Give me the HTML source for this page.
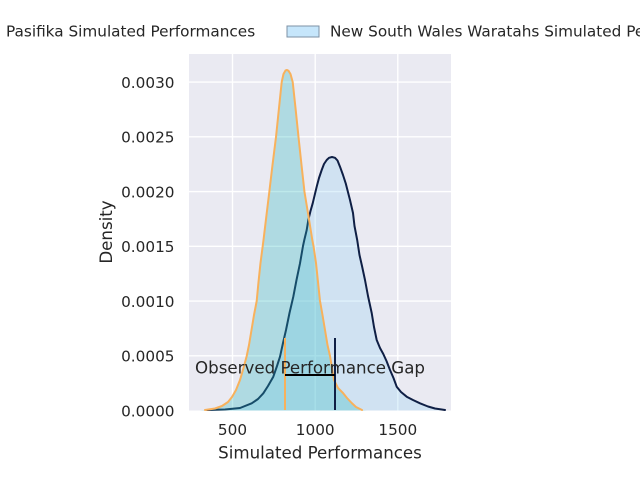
<!DOCTYPE html>
<html><head><meta charset="utf-8"><style>
html,body{margin:0;padding:0;background:#fff;width:640px;height:480px;overflow:hidden}
svg{display:block}
text{font-family:"DejaVu Sans","Liberation Sans",sans-serif;fill:#262626}
</style></head><body>
<svg width="640" height="480" viewBox="0 0 640 480" xmlns="http://www.w3.org/2000/svg">
<rect x="0" y="0" width="640" height="480" fill="#ffffff"/>
<!-- axes background -->
<rect x="189" y="54" width="262" height="356.5" fill="#eaeaf2"/>
<!-- grid -->
<g stroke="#ffffff" stroke-width="1.4">
<line x1="232.5" y1="54" x2="232.5" y2="410.5"/>
<line x1="315.2" y1="54" x2="315.2" y2="410.5"/>
<line x1="397.8" y1="54" x2="397.8" y2="410.5"/>
<line x1="189" y1="355.85" x2="451" y2="355.85"/>
<line x1="189" y1="301.1" x2="451" y2="301.1"/>
<line x1="189" y1="246.35" x2="451" y2="246.35"/>
<line x1="189" y1="191.6" x2="451" y2="191.6"/>
<line x1="189" y1="136.85" x2="451" y2="136.85"/>
<line x1="189" y1="82.1" x2="451" y2="82.1"/>
</g>
<!-- NSW fill + line -->
<polygon fill="rgb(148,207,242)" fill-opacity="0.3" points="200,410.5 207,410 225,409.5 240,408 251.7,403.3 258,399 263.3,393.3 268,386 273.3,376.7 277,366 280,356.7 283,343 286,330 289.5,313 293.3,296.7 296.5,280 300,263.3 303,246 304.3,240 306.7,230 308.3,220 310.5,211 312.7,203.3 316.7,186.7 319,178 321.7,170 324,164 326.7,160 329,157.8 332,157 335,157.8 337.5,160.5 340,166.7 343,175 345.7,183.3 350,200 353,213 354.5,226 357.2,240 359.5,255 362,266 365,280 368,296 371.7,313 374,327 376.7,340 380,348 383.3,354 386.5,361 390,370 393.5,378 396.7,386.7 401,392 406.7,396.7 413,400 420,403.3 428,406.5 435,408.5 445,410 440,410.5"/>
<polyline fill="none" stroke="#0f1f45" stroke-width="2" stroke-linejoin="round" stroke-linecap="round" points="207,410 225,409.5 240,408 251.7,403.3 258,399 263.3,393.3 268,386 273.3,376.7 277,366 280,356.7 283,343 286,330 289.5,313 293.3,296.7 296.5,280 300,263.3 303,246 304.3,240 306.7,230 308.3,220 310.5,211 312.7,203.3 316.7,186.7 319,178 321.7,170 324,164 326.7,160 329,157.8 332,157 335,157.8 337.5,160.5 340,166.7 343,175 345.7,183.3 350,200 353,213 354.5,226 357.2,240 359.5,255 362,266 365,280 368,296 371.7,313 374,327 376.7,340 380,348 383.3,354 386.5,361 390,370 393.5,378 396.7,386.7 401,392 406.7,396.7 413,400 420,403.3 428,406.5 435,408.5 445,410"/>
<!-- Pasifika fill + line -->
<polygon fill="rgb(41,181,189)" fill-opacity="0.3" points="200,410.5 205,410 215,408.5 222,406 228,402 232,397 236,390 240,380 243.5,368 246.7,356 249,345 251,333 254,315 256.7,301 258.5,282 260.5,263 263.5,240 266.5,215 269.3,192 272.5,165 276,137 279,108 281.7,82 283.5,74 285.5,70.5 287,70 288.5,70.8 290.5,74 292.7,82 295.5,108 298.5,137 301.5,165 304.5,192 308.3,215 312.3,240 313.5,246 316,263 318,282 320,301 322.5,315 325,330 327.5,345 330,356 332,368 334,380 338,388 343,393 347,398 351.7,403 356,407 362,410 367,410.5"/>
<polyline fill="none" stroke="#f8b15c" stroke-width="2" stroke-linejoin="round" stroke-linecap="round" points="205,410 215,408.5 222,406 228,402 232,397 236,390 240,380 243.5,368 246.7,356 249,345 251,333 254,315 256.7,301 258.5,282 260.5,263 263.5,240 266.5,215 269.3,192 272.5,165 276,137 279,108 281.7,82 283.5,74 285.5,70.5 287,70 288.5,70.8 290.5,74 292.7,82 295.5,108 298.5,137 301.5,165 304.5,192 308.3,215 312.3,240 313.5,246 316,263 318,282 320,301 322.5,315 325,330 327.5,345 330,356 332,368 334,380 338,388 343,393 347,398 351.7,403 356,407 362,410"/>
<!-- observed gap lines -->
<line x1="285" y1="338" x2="285" y2="410" stroke="#f8b15c" stroke-width="2"/>
<line x1="335" y1="338" x2="335" y2="410" stroke="#0f1f45" stroke-width="2"/>
<line x1="285" y1="375" x2="335" y2="375" stroke="#000000" stroke-width="2"/>
<text x="310" y="373.3" font-size="16.67" text-anchor="middle">Observed Performance Gap</text>
<!-- y tick labels -->
<g font-size="15.28" text-anchor="end">
<text x="174.5" y="88">0.0030</text>
<text x="174.5" y="142.7">0.0025</text>
<text x="174.5" y="197.5">0.0020</text>
<text x="174.5" y="252.2">0.0015</text>
<text x="174.5" y="307">0.0010</text>
<text x="174.5" y="361.7">0.0005</text>
<text x="174.5" y="416.4">0.0000</text>
</g>
<!-- x tick labels -->
<g font-size="15.28" text-anchor="middle">
<text x="232.5" y="435">500</text>
<text x="315.2" y="435">1000</text>
<text x="397.8" y="435">1500</text>
</g>
<text x="320" y="458.3" font-size="16.67" text-anchor="middle">Simulated Performances</text>
<text transform="translate(112,232) rotate(-90)" font-size="16.67" text-anchor="middle">Density</text>
<!-- legend -->
<text x="6" y="36.7" font-size="15.28">Pasifika Simulated Performances</text>
<rect x="287" y="26" width="32" height="11" fill="#c6e6fb" stroke="#7d92a6" stroke-width="1"/>
<text x="330" y="36.7" font-size="15.28">New South Wales Waratahs Simulated Performances</text>
</svg>
</body></html>
